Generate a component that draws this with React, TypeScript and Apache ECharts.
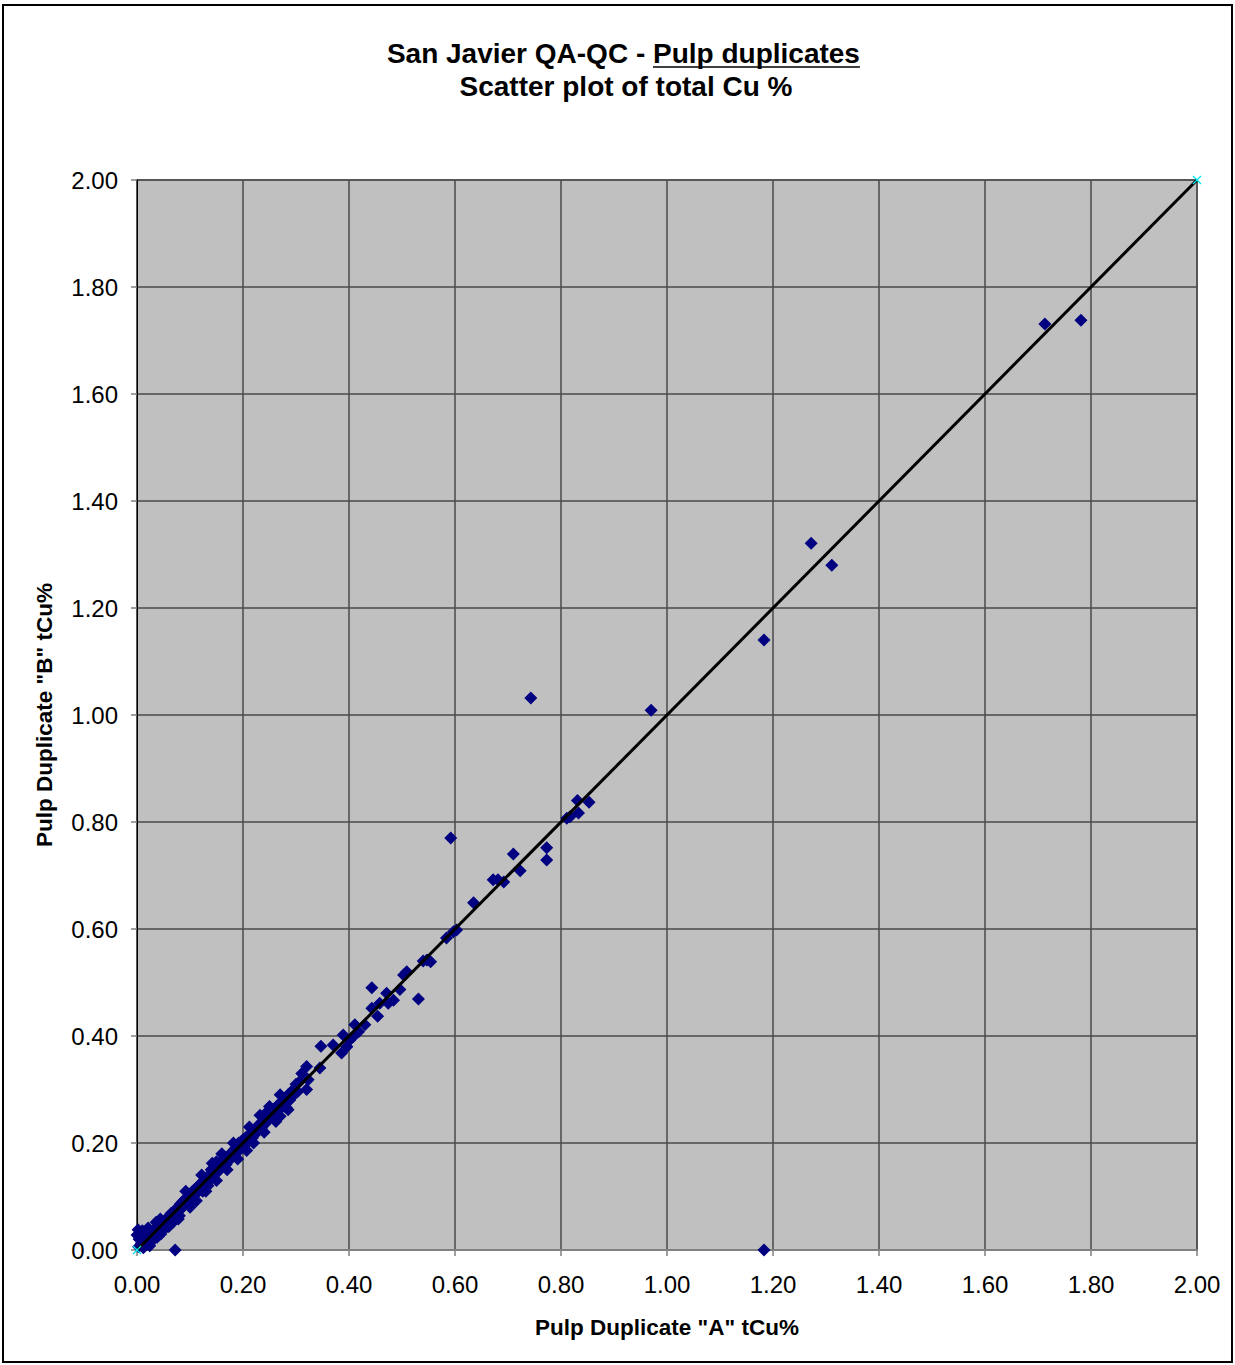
import React, { useEffect, useRef } from "react";
import * as echarts from "echarts";

const titleLine1Left = "San Javier QA-QC -";
const titleLine1Underlined = "Pulp duplicates";
const titleLine2 = "Scatter plot of total Cu %";
const xAxisName = 'Pulp Duplicate "A" tCu%';
const yAxisName = 'Pulp Duplicate "B" tCu%';

const axisTicks = [0, 0.2, 0.4, 0.6, 0.8, 1.0, 1.2, 1.4, 1.6, 1.8, 2.0];

// Pulp duplicate pairs [A, B] (tCu %)
const densePairs: number[][] = [
  [0.002, 0.038], [0.005, 0.030], [0.004, 0.020], [0.008, 0.012], [0.003, 0.006],
  [0.010, 0.036], [0.012, 0.025], [0.015, 0.018], [0.012, 0.004], [0.018, 0.010],
  [0.020, 0.034], [0.022, 0.024], [0.025, 0.017], [0.024, 0.008], [0.028, 0.032],
  [0.030, 0.026], [0.032, 0.020], [0.035, 0.040], [0.036, 0.030], [0.038, 0.024],
  [0.040, 0.045], [0.042, 0.036], [0.045, 0.030], [0.046, 0.048], [0.048, 0.042],
  [0.050, 0.052], [0.052, 0.040], [0.055, 0.058], [0.056, 0.050], [0.058, 0.044],
  [0.060, 0.062], [0.062, 0.055], [0.064, 0.068], [0.066, 0.060], [0.068, 0.052],
  [0.070, 0.072], [0.072, 0.000], [0.073, 0.066], [0.075, 0.078], [0.078, 0.072],
  [0.080, 0.064], [0.082, 0.086], [0.084, 0.078], [0.086, 0.090], [0.088, 0.082],
  [0.090, 0.094], [0.092, 0.086], [0.094, 0.098], [0.096, 0.090], [0.098, 0.084],
  [0.100, 0.104], [0.102, 0.096], [0.105, 0.110], [0.106, 0.100], [0.108, 0.112],
  [0.110, 0.104], [0.112, 0.116], [0.114, 0.108], [0.116, 0.120], [0.118, 0.112],
  [0.120, 0.124], [0.122, 0.116], [0.124, 0.110], [0.126, 0.130], [0.128, 0.122],
  [0.130, 0.134], [0.132, 0.126], [0.134, 0.120], [0.136, 0.140], [0.138, 0.132],
  [0.140, 0.150], [0.142, 0.162], [0.143, 0.138], [0.146, 0.152], [0.148, 0.142],
  [0.150, 0.165], [0.152, 0.146], [0.154, 0.158], [0.156, 0.150], [0.158, 0.162],
  [0.160, 0.154], [0.162, 0.168], [0.164, 0.158], [0.166, 0.170], [0.168, 0.160],
  [0.170, 0.174], [0.172, 0.166], [0.175, 0.178], [0.176, 0.170], [0.178, 0.182],
  [0.180, 0.174], [0.182, 0.186], [0.184, 0.178], [0.186, 0.190], [0.188, 0.182],
  [0.190, 0.194], [0.192, 0.200], [0.194, 0.188], [0.196, 0.202], [0.198, 0.192],
  [0.200, 0.206], [0.202, 0.196], [0.205, 0.210], [0.207, 0.186], [0.208, 0.200],
  [0.210, 0.214], [0.212, 0.206], [0.215, 0.218], [0.218, 0.210], [0.220, 0.224],
  [0.222, 0.216], [0.225, 0.220], [0.228, 0.232], [0.230, 0.224], [0.232, 0.236],
  [0.235, 0.228], [0.238, 0.242], [0.240, 0.250], [0.242, 0.236], [0.245, 0.258],
  [0.248, 0.244], [0.250, 0.268], [0.252, 0.250], [0.255, 0.262], [0.258, 0.252],
  [0.260, 0.264], [0.262, 0.256], [0.265, 0.270], [0.268, 0.262], [0.270, 0.250],
  [0.272, 0.276], [0.275, 0.268], [0.278, 0.282], [0.280, 0.274], [0.282, 0.266],
  [0.285, 0.290], [0.288, 0.280], [0.290, 0.294], [0.292, 0.286], [0.295, 0.300],
  [0.298, 0.292], [0.300, 0.310], [0.303, 0.296], [0.306, 0.314],
  [0.000, 0.028], [0.006, 0.024], [0.014, 0.032], [0.021, 0.041], [0.036, 0.052],
  [0.044, 0.058], [0.060, 0.044], [0.078, 0.058], [0.092, 0.110], [0.100, 0.080],
  [0.112, 0.092], [0.122, 0.140], [0.130, 0.110], [0.150, 0.130], [0.160, 0.180],
  [0.170, 0.150], [0.182, 0.200], [0.190, 0.170], [0.212, 0.230], [0.220, 0.200],
  [0.232, 0.252], [0.240, 0.220], [0.262, 0.240], [0.270, 0.290], [0.285, 0.262],
];

const midPairs: number[][] = [
  [0.311, 0.330], [0.320, 0.343], [0.320, 0.300], [0.323, 0.318], [0.345, 0.340],
  [0.347, 0.381], [0.370, 0.383], [0.386, 0.368], [0.389, 0.402], [0.396, 0.380],
  [0.402, 0.393], [0.408, 0.399], [0.411, 0.421], [0.418, 0.408], [0.430, 0.421],
  [0.443, 0.452], [0.443, 0.490], [0.454, 0.437], [0.458, 0.461], [0.471, 0.480],
  [0.474, 0.461], [0.484, 0.467], [0.496, 0.487], [0.503, 0.514], [0.509, 0.520],
  [0.531, 0.469], [0.540, 0.540], [0.547, 0.542], [0.554, 0.539], [0.584, 0.583],
  [0.597, 0.595], [0.603, 0.598], [0.592, 0.770], [0.635, 0.649], [0.672, 0.692],
  [0.681, 0.692], [0.692, 0.688], [0.710, 0.740], [0.723, 0.709], [0.743, 1.032],
  [0.773, 0.752], [0.773, 0.729], [0.811, 0.807], [0.817, 0.810], [0.833, 0.817],
  [0.831, 0.840], [0.853, 0.837], [0.970, 1.009],
];

const highPairs: number[][] = [
  [1.183, 1.140], [1.183, 0.000], [1.272, 1.321], [1.311, 1.280],
  [1.713, 1.731], [1.781, 1.738],
];

const equalityLine: number[][] = [[0, 0], [2, 2]];

const FONT = '"Liberation Sans", Arial, sans-serif';

export default function App() {
  const ref = useRef<HTMLDivElement>(null);

  useEffect(() => {
    if (!ref.current) return;
    const chart = echarts.init(ref.current, null, { renderer: "svg" });

    const titleFont = `bold 28px ${FONT}`;
    const ctx = document.createElement("canvas").getContext("2d");
    let ulWidth = 208;
    let spaceW = 8;
    if (ctx) {
      ctx.font = titleFont;
      ulWidth = ctx.measureText(titleLine1Underlined).width;
      spaceW = ctx.measureText(" ").width;
    }
    const ulStart = 653;

    const xSym =
      "path://M0,1 L1,0 L5,4 L9,0 L10,1 L6,5 L10,9 L9,10 L5,6 L1,10 L0,9 L4,5 Z";

    chart.setOption({
      animation: false,
      backgroundColor: "#ffffff",
      grid: {
        left: 137,
        top: 180,
        right: 38,
        bottom: 115,
        show: true,
        backgroundColor: "#c0c0c0",
        borderColor: "#808080",
        borderWidth: 2,
      },
      xAxis: {
        type: "value",
        min: 0,
        max: 2,
        interval: 0.2,
        name: xAxisName,
        nameLocation: "middle",
        nameGap: 66,
        nameTextStyle: { fontFamily: FONT, fontWeight: "bold", fontSize: 22.5, color: "#000" },
        axisLine: { show: true, onZero: false, lineStyle: { color: "#808080", width: 2 } },
        axisTick: { show: true, length: 6, lineStyle: { color: "#808080", width: 1.5 } },
        axisLabel: {
          fontFamily: FONT,
          fontSize: 24,
          color: "#000",
          margin: 22,
          formatter: (v: number) => v.toFixed(2),
        },
        splitLine: { show: true, lineStyle: { color: "#4a4a4a", width: 1.5 } },
      },
      yAxis: {
        type: "value",
        min: 0,
        max: 2,
        interval: 0.2,
        name: yAxisName,
        nameLocation: "middle",
        nameGap: 81,
        nameRotate: 90,
        nameTextStyle: { fontFamily: FONT, fontWeight: "bold", fontSize: 22.5, color: "#000" },
        axisLine: { show: true, onZero: false, lineStyle: { color: "#000", width: 1 } },
        axisTick: { show: true, length: 6, lineStyle: { color: "#808080", width: 1.5 } },
        axisLabel: {
          fontFamily: FONT,
          fontSize: 24,
          color: "#000",
          margin: 19,
          formatter: (v: number) => v.toFixed(2),
        },
        splitLine: { show: true, lineStyle: { color: "#4a4a4a", width: 1.5 } },
      },
      series: [
        {
          type: "scatter",
          data: [...densePairs, ...midPairs, ...highPairs],
          symbol: "diamond",
          symbolSize: 13,
          itemStyle: { color: "#000080", opacity: 1 },
          z: 3,
        },
        {
          type: "line",
          data: equalityLine,
          showSymbol: true,
          symbol: xSym,
          symbolSize: 9,
          itemStyle: { color: "#00e5ee", opacity: 1 },
          lineStyle: { color: "#000", width: 3 },
          z: 4,
        },
      ],
      graphic: [
        {
          type: "rect",
          shape: { x: 3, y: 5, width: 1229, height: 1357 },
          style: { fill: "none", stroke: "#000", lineWidth: 2 },
          silent: true,
        },
        {
          type: "text",
          x: ulStart - spaceW,
          y: 53,
          style: {
            text: titleLine1Left,
            font: titleFont,
            fill: "#000",
            textAlign: "right",
            textVerticalAlign: "middle",
          },
        },
        {
          type: "text",
          x: ulStart,
          y: 53,
          style: {
            text: titleLine1Underlined,
            font: titleFont,
            fill: "#000",
            textAlign: "left",
            textVerticalAlign: "middle",
          },
        },
        {
          type: "line",
          shape: { x1: ulStart, y1: 67, x2: ulStart + ulWidth, y2: 67 },
          style: { stroke: "#000", lineWidth: 1.5 },
        },
        {
          type: "text",
          x: 626,
          y: 86,
          style: {
            text: titleLine2,
            font: titleFont,
            fill: "#000",
            textAlign: "center",
            textVerticalAlign: "middle",
          },
        },
      ],
    });

    return () => chart.dispose();
  }, []);

  return (
    <div
      ref={ref}
      style={{ position: "absolute", left: 0, top: 0, width: 1235, height: 1365 }}
    />
  );
}
